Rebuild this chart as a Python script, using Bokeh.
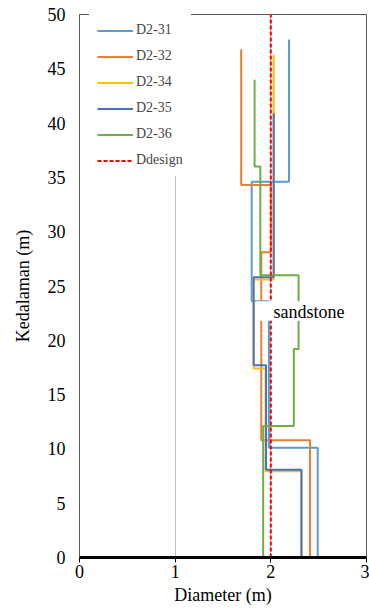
from bokeh.plotting import figure
from bokeh.models import Range1d, FixedTicker, Legend, LegendItem, Label
from bokeh.embed import file_html
from bokeh.resources import INLINE

# ---- data (diameter in m, depth in m) ----
d2_31_diam = [2.19, 2.19, 1.80, 1.80, 1.98, 1.98, 2.49, 2.49]
d2_31_depth = [47.7, 34.6, 34.6, 23.6, 23.6, 10.1, 10.1, 0.0]

d2_32_diam = [1.69, 1.69, 2.00, 2.00, 1.90, 1.90, 2.41, 2.41]
d2_32_depth = [46.8, 34.3, 34.3, 28.1, 28.1, 10.8, 10.8, 0.0]

d2_34_diam = [2.03, 2.03, 1.82, 1.82, 1.945, 1.945, 2.32, 2.32]
d2_34_depth = [46.3, 25.6, 25.6, 17.4, 17.4, 7.95, 7.95, 0.0]

d2_35_diam = [2.03, 2.03, 1.82, 1.82, 1.95, 1.95, 2.32, 2.32]
d2_35_depth = [40.9, 25.8, 25.8, 17.7, 17.7, 8.07, 8.07, 0.0]

d2_36_diam = [1.83, 1.83, 1.89, 1.89, 2.29, 2.29, 2.24, 2.24, 1.92, 1.92]
d2_36_depth = [44.0, 36.0, 36.0, 26.0, 26.0, 19.2, 19.2, 12.1, 12.1, 0.0]

ddesign_diam = [2.0, 2.0]
ddesign_depth = [0.0, 50.0]

series_names = ["D2-31", "D2-32", "D2-34", "D2-35", "D2-36"]
x_ticks = [0, 1, 2, 3]
y_ticks = [0, 5, 10, 15, 20, 25, 30, 35, 40, 45, 50]
layer_label = "sandstone"

# ---- styling ----
colors = ["#5B9BD5", "#ED7D31", "#FFC000", "#4472C4", "#70AD47"]
FONT = "Liberation Serif"

p = figure(width=369, height=615,
           x_range=Range1d(0, 3), y_range=Range1d(0, 50),
           output_backend="svg", toolbar_location=None,
           min_border_left=79, min_border_right=3,
           min_border_top=14, min_border_bottom=58)
p.background_fill_color = "white"
p.border_fill_color = "white"
p.outline_line_color = "#595959"
p.outline_line_width = 1

all_series = [(d2_31_diam, d2_31_depth), (d2_32_diam, d2_32_depth),
              (d2_34_diam, d2_34_depth), (d2_35_diam, d2_35_depth),
              (d2_36_diam, d2_36_depth)]

items = []
for name, (xs, ys), c in zip(series_names, all_series, colors):
    r = p.line(xs, ys, line_color=c, line_width=2)
    items.append(LegendItem(label=name, renderers=[r]))

rd = p.line(ddesign_diam, ddesign_depth, line_color="#FF0000", line_width=2,
            line_dash="4 2")
items.append(LegendItem(label="Ddesign", renderers=[rd]))

# white box behind the layer label (covers lines like the original)
p.quad(left=[1.84], right=[2.83], bottom=[21.8], top=[23.6],
       fill_color="white", line_color=None)
p.add_layout(Label(x=2.40, y=22.6, text=layer_label, text_align="center",
                   text_baseline="middle", text_font=FONT,
                   text_font_size="18px", text_color="black"))

legend = Legend(items=items, location=(10, 381),
                padding=8, spacing=10, glyph_width=36, glyph_height=15,
                label_height=15, label_standoff=3,
                label_text_font=FONT, label_text_font_size="14px",
                border_line_alpha=0, background_fill_color="white",
                background_fill_alpha=1.0, margin=0)
p.add_layout(legend)

# axes
p.xaxis.ticker = FixedTicker(ticks=x_ticks)
p.yaxis.ticker = FixedTicker(ticks=y_ticks)
p.xaxis.axis_label = "Diameter (m)"
p.yaxis.axis_label = "Kedalaman (m)"
for ax in (p.xaxis[0], p.yaxis[0]):
    ax.axis_label_text_font = FONT
    ax.axis_label_text_font_size = "18px"
    ax.axis_label_text_font_style = "normal"
    ax.axis_label_text_color = "black"
    ax.major_label_text_font = FONT
    ax.major_label_text_font_size = "18px"
    ax.major_label_text_color = "black"
    ax.minor_tick_line_color = None

p.xaxis.axis_line_color = "black"
p.xaxis.axis_line_width = 3
p.xaxis.major_tick_line_color = "black"
p.xaxis.major_tick_line_width = 1
p.xaxis.major_tick_out = 5
p.xaxis.major_tick_in = 0
p.xaxis.major_label_standoff = 2
p.xaxis.axis_label_standoff = 4

p.yaxis.axis_line_color = "#595959"
p.yaxis.major_tick_line_color = None
p.yaxis.major_tick_out = 0
p.yaxis.major_tick_in = 0
p.yaxis.major_label_standoff = 14
p.yaxis.axis_label_standoff = 12

p.xgrid.grid_line_color = "#BFBFBF"
p.xgrid.grid_line_width = 1
p.ygrid.visible = False

open("out.html", "w").write(file_html(p, INLINE))
